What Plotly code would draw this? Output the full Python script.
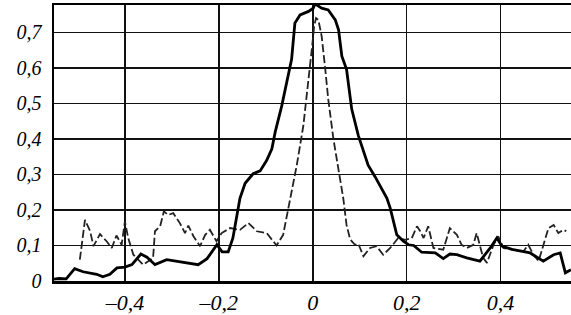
import plotly.graph_objects as go

# Solid curve
solid_x = [-0.551, -0.54, -0.525, -0.507, -0.489, -0.47, -0.46, -0.447, -0.432, -0.417, -0.4, -0.385,
           -0.366, -0.353, -0.336, -0.311, -0.29, -0.268, -0.244, -0.225, -0.204, -0.193, -0.18, -0.17,
           -0.161, -0.155, -0.144, -0.127, -0.112, -0.098, -0.087, -0.08, -0.066, -0.055, -0.045, -0.038,
           -0.027, -0.009, 0.001, 0.005, 0.019, 0.033, 0.048, 0.055, 0.062, 0.072, 0.083, 0.097, 0.108,
           0.118, 0.133, 0.15, 0.158, 0.165, 0.174, 0.179, 0.193, 0.204, 0.215, 0.232, 0.261, 0.278, 0.292,
           0.307, 0.328, 0.356, 0.378, 0.392, 0.403, 0.427, 0.463, 0.491, 0.513, 0.527, 0.538, 0.55]
solid_y = [0.005, 0.007, 0.006, 0.035, 0.026, 0.022, 0.019, 0.012, 0.019, 0.037, 0.039, 0.046,
           0.076, 0.067, 0.046, 0.06, 0.056, 0.051, 0.046, 0.063, 0.102, 0.082, 0.082, 0.121,
           0.186, 0.233, 0.275, 0.302, 0.31, 0.34, 0.372, 0.419, 0.493, 0.559, 0.624, 0.726,
           0.749, 0.759, 0.768, 0.78, 0.768, 0.763, 0.735, 0.707, 0.633, 0.596, 0.484, 0.41, 0.363,
           0.326, 0.293, 0.251, 0.233, 0.205, 0.158, 0.13, 0.112, 0.102, 0.1, 0.081, 0.079, 0.063, 0.076,
           0.074, 0.065, 0.056, 0.093, 0.121, 0.098, 0.088, 0.079, 0.056, 0.074, 0.079, 0.023, 0.032]

# Dashed curve
dash_x = [-0.496, -0.485, -0.474, -0.467, -0.453, -0.439, -0.428, -0.418, -0.407, -0.4, -0.393, -0.382,
          -0.361, -0.34, -0.336, -0.325, -0.317, -0.308, -0.297, -0.283, -0.272, -0.265, -0.254, -0.24,
          -0.229, -0.219, -0.205, -0.194, -0.176, -0.155, -0.137, -0.119, -0.098, -0.077, -0.063, -0.05,
          -0.034, -0.02, -0.009, -0.002, 0.003, 0.007, 0.012, 0.019, 0.026, 0.033, 0.044, 0.055, 0.065,
          0.072, 0.079, 0.083, 0.09, 0.097, 0.108, 0.122, 0.136, 0.15, 0.165, 0.182, 0.197, 0.211, 0.222,
          0.229, 0.236, 0.246, 0.257, 0.278, 0.292, 0.307, 0.317, 0.328, 0.342, 0.349, 0.356, 0.363,
          0.371, 0.385, 0.395, 0.406, 0.427, 0.449, 0.459, 0.47, 0.481, 0.491, 0.502, 0.513, 0.523,
          0.534, 0.54]
dash_y = [0.06, 0.172, 0.14, 0.098, 0.132, 0.112, 0.093, 0.128, 0.102, 0.168, 0.121, 0.074,
          0.046, 0.065, 0.14, 0.154, 0.196, 0.186, 0.191, 0.163, 0.135, 0.156, 0.126, 0.098,
          0.13, 0.144, 0.112, 0.135, 0.149, 0.144, 0.163, 0.14, 0.135, 0.1, 0.13, 0.22,
          0.326, 0.437, 0.559, 0.652, 0.717, 0.74, 0.735, 0.689, 0.605, 0.512, 0.4, 0.307, 0.233,
          0.158, 0.121, 0.112, 0.102, 0.105, 0.07, 0.093, 0.098, 0.074, 0.093, 0.121, 0.116, 0.121, 0.154,
          0.14, 0.121, 0.154, 0.093, 0.088, 0.149, 0.13, 0.102, 0.093, 0.102, 0.135, 0.1, 0.065,
          0.051, 0.102, 0.126, 0.093, 0.088, 0.084, 0.102, 0.074, 0.056, 0.102, 0.149, 0.158, 0.135,
          0.144, 0.14]

x_tickvals = [-0.4, -0.2, 0, 0.2, 0.4]
x_ticktext = ["–0,4", "–0,2", "0", "0,2", "0,4"]
y_tickvals = [0, 0.1, 0.2, 0.3, 0.4, 0.5, 0.6, 0.7]
y_ticktext = ["0", "0,1", "0,2", "0,3", "0,4", "0,5", "0,6", "0,7"]

fig = go.Figure()
fig.add_trace(go.Scatter(x=dash_x, y=dash_y, mode="lines",
                         line=dict(color="#222222", width=1.8, dash="8px,3px"), showlegend=False))
fig.add_trace(go.Scatter(x=solid_x, y=solid_y, mode="lines",
                         line=dict(color="#000000", width=2.8), showlegend=False))

serif = "Liberation Serif, Times New Roman, serif"
yfont = dict(family=serif, size=20, color="black", style="italic")
xfont = dict(family=serif, size=22, color="black", style="italic")

fig.update_layout(
    width=571, height=315,
    margin=dict(l=54, r=0, t=5, b=32),
    paper_bgcolor="white", plot_bgcolor="white",
    xaxis=dict(range=[-0.551, 0.55], tickvals=x_tickvals, ticktext=x_ticktext,
               showgrid=True, gridcolor="#111111", gridwidth=1.6, zeroline=False,
               showline=True, linecolor="black", linewidth=2.5, mirror=True,
               ticks="", tickfont=xfont, ticklabelstandoff=0, fixedrange=True),
    yaxis=dict(range=[0, 0.777], tickvals=y_tickvals, ticktext=y_ticktext,
               showgrid=True, gridcolor="#111111", gridwidth=1.6, zeroline=False,
               showline=True, linecolor="black", linewidth=2.5, mirror=False,
               ticks="", tickfont=yfont, ticklabelstandoff=6, fixedrange=True),
)

fig.write_html("out.html", config={"displayModeBar": False, "staticPlot": True},
               post_script="document.body.style.margin='0';document.body.style.overflow='hidden';")
